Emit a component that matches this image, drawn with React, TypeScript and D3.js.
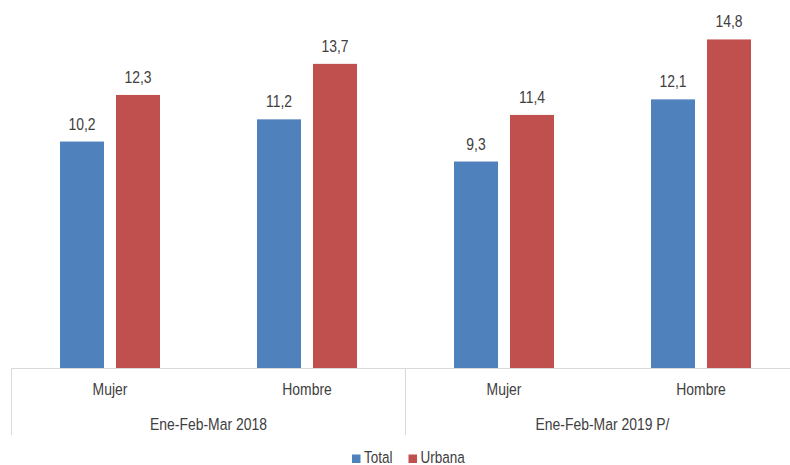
import React from "react";
import * as d3 from "d3";

const categories = ["Mujer", "Hombre", "Mujer", "Hombre"];
const groups = ["Ene-Feb-Mar 2018", "Ene-Feb-Mar 2019 P/"];
const seriesNames = ["Total", "Urbana"];
const totalValues = [10.2, 11.2, 9.3, 12.1];
const urbanaValues = [12.3, 13.7, 11.4, 14.8];
const colors = ["#4F81BD", "#C0504D"];

const W = 790;
const H = 465;
const FONT = "'Liberation Sans', Arial, sans-serif";
const SX = 0.82;
const FS = 17;
const textColor = "#404040";

function T({ x, y, anchor = "middle", size = FS, children }: { x: number; y: number; anchor?: string; size?: number; children: React.ReactNode }) {
  return (
    <text transform={`translate(${x},${y}) scale(${SX},1)`} textAnchor={anchor} fontSize={size} fill={textColor}>
      {children}
    </text>
  );
}

export default function App() {
  const x0 = 11.5;
  const x1 = 799.5;
  const baseY = 368;
  const x = d3.scaleBand<number>().domain(d3.range(categories.length)).range([x0, x1]).padding(0);
  const inner = d3
    .scaleBand<string>()
    .domain(seriesNames)
    .range([x.bandwidth() / 2 - 50, x.bandwidth() / 2 + 50])
    .paddingInner(0.2143)
    .paddingOuter(0);
  const y = d3.scaleLinear().domain([0, 16]).range([baseY, baseY - 16 * 22.2]);
  const data = [totalValues, urbanaValues];
  const fmt = (v: number) => v.toFixed(1).replace(".", ",");
  const groupW = (x1 - x0) / groups.length;

  return (
    <svg width={W} height={H} style={{ position: "absolute", left: 0, top: 0 }} fontFamily={FONT}>
      <rect x={0} y={0} width={W} height={H} fill="#fff" />
      {categories.map((c, i) => (
        <g key={i} transform={`translate(${x(i)},0)`}>
          {seriesNames.map((s, j) => {
            const v = data[j][i];
            const bx = inner(s)!;
            return (
              <g key={s}>
                <rect x={bx} y={y(v)} width={inner.bandwidth()} height={baseY - y(v)} fill={colors[j]} />
                <T x={bx + inner.bandwidth() / 2} y={y(v) - 12}>
                  {fmt(v)}
                </T>
              </g>
            );
          })}
          <T x={x.bandwidth() / 2} y={395}>
            {c}
          </T>
        </g>
      ))}
      <line x1={x0} x2={x1} y1={baseY + 0.5} y2={baseY + 0.5} stroke="#D9D9D9" strokeWidth={1} />
      {d3.range(groups.length + 1).map((k) => (
        <line key={k} x1={x0 + k * groupW} x2={x0 + k * groupW} y1={baseY} y2={435} stroke="#D9D9D9" strokeWidth={1} />
      ))}
      {groups.map((g, k) => (
        <T key={g} x={x0 + k * groupW + groupW / 2} y={430}>
          {g}
        </T>
      ))}
      {seriesNames.map((s, j) => {
        const lx = j === 0 ? 352 : 408.5;
        return (
          <g key={s}>
            <rect x={lx} y={454.5} width={8.5} height={8.5} fill={colors[j]} />
            <T x={lx + 12} y={462.5} anchor="start" size={16.5}>
              {s}
            </T>
          </g>
        );
      })}
    </svg>
  );
}
